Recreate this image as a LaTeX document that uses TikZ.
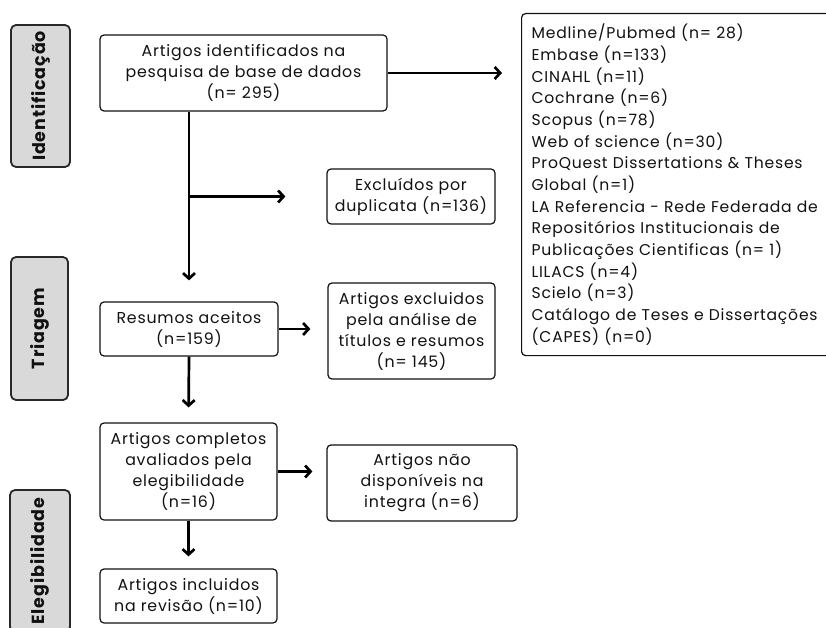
\documentclass[tikz,border=0pt]{standalone}
\usepackage{fontspec}
\setmainfont[LetterSpace=5]{Poppins}
\newfontfamily\labfont[LetterSpace=5]{Poppins}
\usetikzlibrary{arrows.meta}
\definecolor{ink}{HTML}{111111}
\definecolor{labfill}{HTML}{D9D9D9}
\tikzset{
  box/.style={draw=ink, line width=1.2pt, rounded corners=4pt, fill=white, text=ink,
    align=center, inner sep=0pt, font=\fontsize{15.8}{21}\selectfont},
  phase/.style={draw=ink!90, line width=1.8pt, rounded corners=5pt, fill=labfill, text=ink,
    rotate=90, inner sep=0pt, font=\labfont\bfseries\fontsize{17.5}{20}\selectfont},
  flow/.style={draw=black, line width=2.7pt, -{Straight Barb[length=5.5pt,width=12pt]}},
}
\begin{document}
\begin{tikzpicture}[x=1pt,y=-1pt]
\clip (0,0) rectangle (826,628);
\fill[white] (0,0) rectangle (826,628);

% phase labels
\node[phase, minimum width=142pt, minimum height=59pt] (ph1) at (40.5,96) {Identificação};
\node[phase, minimum width=143pt, minimum height=57pt] (ph2) at (39.5,328.5) {Triagem};
\node[phase, minimum width=142pt, minimum height=60pt] (ph3) at (40,561) {Elegibilidade};

% boxes
\node[box, minimum width=287pt, minimum height=76pt] (b1) at (243.5,73)
  {Artigos identificados na\\pesquisa de base de dados\\(n= 295)};
\node[box, anchor=north west, minimum width=320pt, minimum height=342pt,
  text width=300pt, align=left, inner xsep=9pt, font=\fontsize{15.6}{21.65}\selectfont] (src) at (521,13)
  {Medline/Pubmed (n= 28)\\Embase (n=133)\\CINAHL (n=11)\\Cochrane (n=6)\\Scopus (n=78)\\
   Web of science (n=30)\\ProQuest Dissertations \& Theses\\Global (n=1)\\
   LA Referencia - Rede Federada de\\Repositórios Institucionais de\\
   Publicações Cientificas (n= 1)\\LILACS (n=4)\\Scielo (n=3)\\
   Catálogo de Teses e Dissertações\\(CAPES) (n=0)};
\node[box, minimum width=168pt, minimum height=55pt] (dup) at (411,196.5)
  {Excluídos por\\duplicata (n=136)};
\node[box, minimum width=178pt, minimum height=54pt] (res) at (189,329)
  {Resumos aceitos\\(n=159)};
\node[box, minimum width=167pt, minimum height=96pt] (exc) at (411.5,331)
  {Artigos excluidos\\pela análise de\\títulos e resumos\\(n= 145)};
\node[box, minimum width=177pt, minimum height=97pt] (comp) at (188.5,471.5)
  {Artigos completos\\avaliados pela\\elegibilidade\\(n=16)};
\node[box, minimum width=190pt, minimum height=76pt] (nd) at (422,483)
  {Artigos não\\disponíveis na\\integra (n=6)};
\node[box, minimum width=177pt, minimum height=54pt] (inc) at (188.5,596)
  {Artigos incluidos\\na revisão (n=10)};

% connectors
\coordinate (top) at (res.north |- b1.south);
\coordinate (branch) at (res.north |- dup.west);
\draw[flow, shorten >=19pt] (b1.east) -- (b1.east -| src.west);
\draw[flow, shorten >=21pt] (top) -- (res.north);
\draw[flow, shorten >=41pt] (branch) -- (dup.west);
\draw[flow, shorten >=17pt] (res.east) -- (res.east -| exc.west);
\draw[flow, shorten >=15pt] (res.south) -- (comp.north);
\draw[flow, shorten >=14pt] (comp.east) -- (comp.east -| nd.west);
\draw[flow, shorten >=12pt] (comp.south) -- (inc.north);
\end{tikzpicture}
\end{document}
